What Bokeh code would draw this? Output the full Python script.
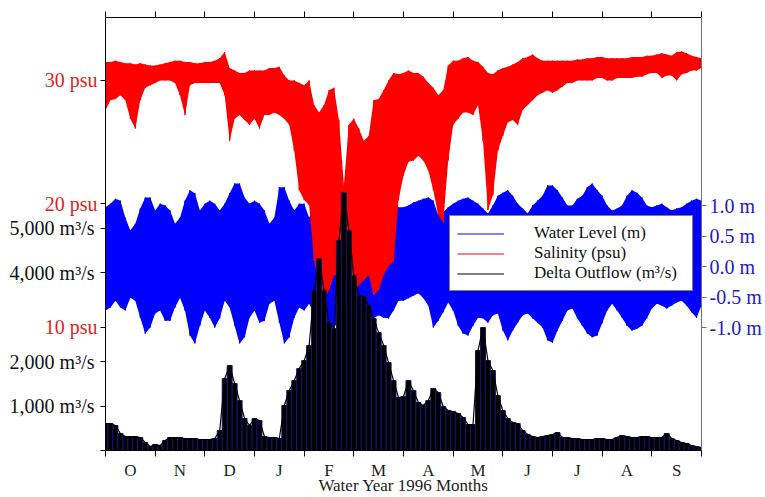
import numpy as np
from bokeh.plotting import figure
from bokeh.models import Range1d, LinearAxis, FixedTicker, Legend, LegendItem
from bokeh.embed import file_html
from bokeh.resources import INLINE

# ---------------- data ----------------
months = ["O", "N", "D", "J", "F", "M", "A", "M", "J", "J", "A", "S"]
month_edges = list(range(13))
month_mids = [i + 0.5 for i in range(12)]

# sample times: months since 1 Oct 1995 (every 0.1 month)
t = np.linspace(0, 12, 121)

# salinity envelope (psu): upper / lower extent of the tidal signal
sal_hi = [31.5, 31.5, 31.6, 31.5, 31.4, 31.4, 31.3, 31.4, 31.3, 31.2,
          31.2, 31.3, 31.4, 31.5, 31.6, 31.6, 31.5, 31.5, 31.4, 31.4,
          31.5, 31.5, 31.6, 31.8, 32.3, 31.0, 30.8, 30.6, 30.6, 30.8,
          30.8, 30.8, 30.8, 31.0, 31.0, 31.1, 30.4, 30.0, 30.0, 29.8,
          29.6, 30.0, 28.0, 27.4, 28.0, 29.2, 29.4, 26.8, 21.5, 26.4,
          26.9, 26.1, 25.1, 25.5, 28.4, 28.5, 29.2, 30.0, 30.6, 30.5,
          30.6, 30.8, 30.6, 30.6, 30.3, 29.8, 29.4, 28.8, 29.2, 31.2,
          31.6, 31.6, 31.8, 31.9, 31.6, 31.5, 31.1, 30.6, 30.5, 30.8,
          31.0, 31.1, 31.3, 31.5, 31.8, 31.9, 32.1, 31.8, 31.6, 31.6,
          31.6, 31.6, 31.6, 31.6, 31.6, 31.7, 31.7, 31.8, 31.8, 31.9,
          31.9, 31.8, 31.8, 31.8, 31.8, 31.8, 31.9, 31.9, 31.9, 32.0,
          32.0, 32.1, 32.2, 32.1, 32.0, 32.3, 32.35, 32.2, 32.0, 31.9,
          31.8]
sal_lo = [27.6, 28.4, 28.5, 28.8, 28.4, 26.9, 26.1, 28.4, 29.4, 29.6,
          29.8, 30.0, 30.0, 30.0, 29.8, 28.8, 27.2, 29.6, 29.8, 29.8,
          29.8, 29.8, 29.8, 29.8, 28.8, 25.1, 26.9, 27.2, 26.8, 26.4,
          26.9, 26.1, 27.2, 27.2, 27.4, 27.2, 26.9, 26.4, 24.3, 21.1,
          20.3, 19.9, 15.4, 13.4, 12.2, 13.0, 14.2, 14.2, 14.6, 13.4,
          13.0, 13.4, 13.8, 14.2, 12.6, 13.0, 14.2, 15.0, 15.3, 20.3,
          22.3, 23.4, 23.5, 23.9, 23.5, 22.7, 21.1, 19.1, 18.5, 23.5,
          26.4, 26.9, 27.4, 27.4, 27.2, 28.0, 25.1, 19.5, 20.7, 24.3,
          25.5, 26.6, 26.8, 26.4, 27.6, 28.0, 28.4, 28.8, 29.0, 29.2,
          29.0, 29.2, 29.5, 29.8, 29.8, 30.0, 30.0, 30.0, 30.0, 30.2,
          30.2, 30.0, 30.0, 30.2, 30.2, 30.2, 30.2, 30.3, 30.3, 30.5,
          30.6, 30.6, 30.2, 30.4, 30.4, 30.0, 30.5, 30.6, 30.8, 30.8,
          31.0]

# water level envelope (m)
wl_hi = [0.97, 1.03, 1.11, 1.08, 0.80, 0.59, 0.70, 0.95, 1.13, 1.13,
         0.92, 1.03, 1.00, 0.92, 0.70, 0.80, 1.08, 1.25, 1.20, 0.92,
         1.03, 1.08, 1.03, 0.92, 1.03, 1.20, 1.36, 1.36, 1.13, 1.03,
         1.08, 1.03, 0.92, 0.70, 0.80, 1.30, 1.30, 1.08, 0.92, 1.03,
         1.03, 0.80, 1.00, 1.08, 1.16, 1.33, 1.36, 1.16, 1.00, 0.92,
         1.00, 1.08, 1.08, 1.00, 0.92, 1.08, 1.11, 1.08, 1.00, 0.97,
         0.97, 1.00, 1.05, 1.08, 1.11, 1.13, 1.08, 0.84, 0.89, 0.97,
         1.03, 1.08, 1.11, 1.13, 1.08, 1.03, 0.95, 0.87, 1.00, 1.16,
         1.21, 1.25, 1.16, 1.03, 0.95, 0.87, 1.00, 1.08, 1.16, 1.33,
         1.33, 1.25, 1.13, 1.00, 1.00, 1.11, 1.16, 1.30, 1.36, 1.25,
         1.16, 1.00, 0.92, 0.95, 1.00, 1.16, 1.25, 1.21, 1.13, 1.00,
         0.97, 1.00, 1.03, 0.97, 0.92, 0.95, 0.97, 1.03, 1.08, 1.11,
         1.08]
wl_lo = [-0.72, -0.67, -0.56, -0.67, -0.72, -0.51, -0.56, -0.84, -1.10, -1.00,
         -0.77, -0.72, -0.89, -0.89, -0.67, -0.51, -0.72, -1.13, -1.26, -0.97,
         -0.72, -0.84, -1.00, -0.85, -0.56, -0.67, -0.97, -1.26, -1.16, -0.84,
         -0.72, -0.92, -0.89, -0.61, -0.56, -0.92, -1.26, -1.16, -0.84, -0.67,
         -0.72, -0.61, -0.77, -0.89, -0.97, -1.00, -1.00, -0.89, -0.72, -0.64,
         -0.61, -0.72, -0.80, -0.89, -0.85, -0.80, -0.84, -0.85, -0.72, -0.56,
         -0.56, -0.52, -0.48, -0.44, -0.52, -0.64, -1.00, -0.89, -0.75, -0.59,
         -0.72, -0.97, -1.10, -1.13, -0.97, -0.84, -0.85, -0.92, -0.80, -0.77,
         -1.05, -1.21, -1.05, -0.92, -0.80, -0.77, -0.85, -0.92, -1.00, -1.21,
         -1.25, -1.05, -0.89, -0.72, -0.69, -0.85, -0.97, -1.10, -1.16, -1.13,
         -0.93, -0.72, -0.61, -0.72, -0.84, -0.97, -1.05, -1.02, -0.97, -0.85,
         -0.69, -0.61, -0.64, -0.69, -0.64, -0.59, -0.56, -0.64, -0.75, -0.84,
         -0.64]

# delta outflow (m3/s)
flow = [608, 608, 563, 383, 315, 315, 315, 293, 180, 90,
        135, 113, 225, 293, 293, 293, 270, 270, 270, 248,
        248, 248, 270, 450, 1620, 1913, 1508, 1125, 720, 563,
        720, 675, 315, 293, 293, 270, 1013, 1350, 1575, 1845,
        2025, 2363, 3600, 4320, 3600, 2880, 2745, 4725, 5805, 4950,
        3938, 3488, 3465, 3263, 2970, 2655, 2363, 1980, 1575, 1193,
        1215, 1575, 1350, 1080, 1013, 1125, 1395, 1305, 990, 900,
        878, 833, 743, 585, 585, 2250, 2768, 2025, 1800, 1238,
        900, 720, 630, 608, 450, 360, 315, 293, 315, 338,
        360, 405, 293, 293, 270, 270, 248, 248, 248, 270,
        270, 248, 248, 293, 338, 315, 293, 293, 315, 315,
        293, 293, 293, 383, 270, 225, 180, 158, 113, 90,
        68]

psu_ticks = [10, 20, 30]
flow_ticks = [1000, 2000, 4000, 5000]
wl_ticks = [-1.0, -0.5, 0.0, 0.5, 1.0]

PSU_RANGE = (0, 35.1)
FLOW_RANGE = (0, 9752)
WL_RANGE = (-3.016, 4.082)

FONT = "Liberation Serif"
RED_TXT = "#e01e1e"
BLUE_TXT = "#2020c8"

# ---------------- figure ----------------
p = figure(width=765, height=497,
           x_range=Range1d(0, 12), y_range=Range1d(*PSU_RANGE),
           x_axis_location=None, y_axis_location=None,
           output_backend="svg", toolbar_location=None,
           min_border_left=105, min_border_top=17, min_border_right=64,
           min_border_bottom=47, background_fill_color="white",
           border_fill_color="white")
p.extra_y_ranges = {"flow": Range1d(*FLOW_RANGE), "wl": Range1d(*WL_RANGE)}
p.xgrid.visible = False
p.ygrid.visible = False
p.outline_line_color = None

# zig-zag through the tidal extremes (same x for each hi/lo pair)
tz = np.repeat(t, 2)
wl_z = np.ravel(np.column_stack([wl_hi, wl_lo]))
sal_z = np.ravel(np.column_stack([sal_hi, sal_lo]))

# water level
p.varea(x=t, y1=wl_lo, y2=wl_hi, fill_color="#0000ff", y_range_name="wl")
r_wl = p.line(tz, wl_z, line_color="#0000ff", line_width=1, y_range_name="wl")
# salinity
p.varea(x=t, y1=sal_lo, y2=sal_hi, fill_color="#ff0000")
r_sal = p.line(tz, sal_z, line_color="#ff0000", line_width=1)
# outflow
p.vbar(x=t, top=flow, bottom=0, width=0.1, fill_color="black",
       line_color="#141470", line_width=1, y_range_name="flow")
r_flow = p.line(t, flow, line_color="black", line_width=1.2, y_range_name="flow")

legend = Legend(items=[LegendItem(label="Water Level (m)", renderers=[r_wl]),
                       LegendItem(label="Salinity (psu)", renderers=[r_sal]),
                       LegendItem(label="Delta Outflow (m³/s)", renderers=[r_flow])],
                location=(344, 159), orientation="vertical",
                border_line_color="black", border_line_width=1,
                background_fill_color="white", background_fill_alpha=1.0,
                label_text_font=FONT, label_text_font_size="17px",
                label_text_color="#111111",
                glyph_width=47, glyph_height=19, label_height=19,
                label_width=151, label_standoff=30, padding=7, spacing=0,
                margin=0)
p.add_layout(legend, "center")

# top axis: month edge ticks only
ax_top = LinearAxis(ticker=FixedTicker(ticks=[], minor_ticks=month_edges),
                    major_tick_in=0, major_tick_out=0,
                    minor_tick_in=0, minor_tick_out=6,
                    minor_tick_line_color="black",
                    major_label_standoff=0,
                    axis_line_color="black")
p.add_layout(ax_top, "above")

# bottom axis: ticks at month edges, labels at mid-month
ax_bot = LinearAxis(ticker=FixedTicker(ticks=month_mids, minor_ticks=month_edges),
                    major_tick_in=0, major_tick_out=0,
                    minor_tick_in=0, minor_tick_out=6,
                    minor_tick_line_color="black",
                    major_label_overrides={m: lab for m, lab in zip(month_mids, months)},
                    major_label_standoff=4,
                    major_label_text_font=FONT, major_label_text_font_size="17px",
                    major_label_text_color="#222222",
                    axis_label="Water Year 1996 Months",
                    axis_label_text_font=FONT, axis_label_text_font_size="17px",
                    axis_label_text_font_style="normal",
                    axis_label_text_color="#222222",
                    axis_label_standoff=-7, axis_line_color="black")
p.add_layout(ax_bot, "below")

# inner left axis: salinity (red labels); outflow tick marks as minor ticks
flow_marks = [0] + flow_ticks
flow_in_psu = [v / FLOW_RANGE[1] * PSU_RANGE[1] for v in flow_marks]
ax_psu = LinearAxis(ticker=FixedTicker(ticks=psu_ticks, minor_ticks=flow_in_psu),
                    major_label_overrides={v: f"{v} psu" for v in psu_ticks},
                    major_tick_in=0, major_tick_out=5,
                    minor_tick_in=0, minor_tick_out=5,
                    minor_tick_line_color="black",
                    major_label_standoff=3,
                    major_label_text_font=FONT, major_label_text_font_size="20px",
                    major_label_text_color=RED_TXT,
                    axis_line_color="black", major_tick_line_color="black")
p.add_layout(ax_psu, "left")

# outer left axis: outflow labels (black), pulled in to align with the red ones
ax_flow = LinearAxis(y_range_name="flow", ticker=FixedTicker(ticks=flow_ticks),
                     major_label_overrides={v: f"{v:,} m³/s" for v in flow_ticks},
                     major_tick_in=0, major_tick_out=0, minor_tick_out=0,
                     minor_tick_in=0,
                     major_label_standoff=-53,
                     major_label_text_font=FONT, major_label_text_font_size="20px",
                     major_label_text_color="#111111",
                     axis_line_color=None)
p.add_layout(ax_flow, "left")

# right axis: water level (blue labels)
ax_wl = LinearAxis(y_range_name="wl", ticker=FixedTicker(ticks=wl_ticks),
                   major_label_overrides={v: f"{v:.1f} m" for v in wl_ticks},
                   major_tick_in=0, major_tick_out=5, minor_tick_out=0,
                   major_label_standoff=3,
                   major_label_text_font=FONT, major_label_text_font_size="20px",
                   major_label_text_color=BLUE_TXT,
                   axis_line_color="#707070", major_tick_line_color="#707070")
p.add_layout(ax_wl, "right")

open("out.html", "w").write(file_html(p, INLINE))
